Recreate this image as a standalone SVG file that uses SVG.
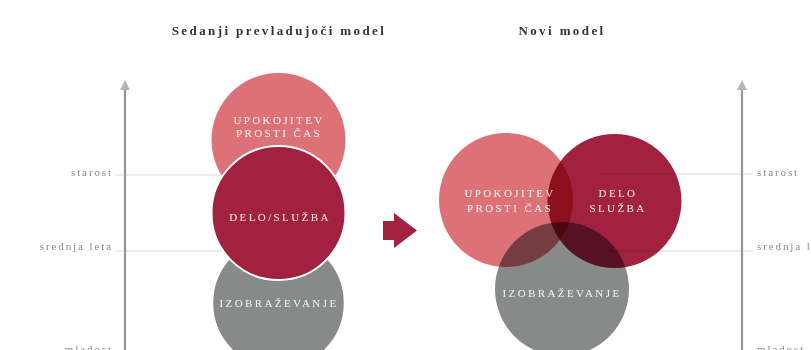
<svg xmlns="http://www.w3.org/2000/svg" width="811" height="350" viewBox="0 0 811 350">
<defs>
<style>
.title{font-family:"Liberation Serif",serif;font-size:13px;font-weight:bold;fill:#333;letter-spacing:2.4px;text-anchor:middle}
.lbl{font-family:"Liberation Serif",serif;font-size:11px;fill:#8a8a8a;letter-spacing:1.9px}
.ct{font-family:"Liberation Serif",serif;font-size:11px;fill:#fff;letter-spacing:2.4px;text-anchor:middle;opacity:0.92}
.grid{stroke:#ececec;stroke-width:2}
.axis{stroke:#959595;stroke-width:2.2}
.pink{fill:#dc7178}
.red{fill:#a2213f}
.gray{fill:#878a89}
.mul{mix-blend-mode:multiply}
</style>
</defs>
<rect width="811" height="350" fill="#fff"/>
<text class="title" x="279" y="35">Sedanji prevladujoči model</text>
<text class="title" x="562" y="35">Novi model</text>
<g id="axes">
<line class="grid" x1="115" y1="175" x2="300" y2="175"/>
<line class="grid" x1="115" y1="251" x2="300" y2="251"/>
<line class="grid" x1="600" y1="174" x2="753" y2="174"/>
<line class="grid" x1="600" y1="251" x2="753" y2="251"/>
<line class="axis" x1="125" y1="86" x2="125" y2="350"/>
<polygon points="125,80 120,90 130,90" fill="#b5b5b5"/>
<line class="axis" x1="742" y1="86" x2="742" y2="350"/>
<polygon points="742,80 737,90 747,90" fill="#b5b5b5"/>
<text class="lbl" x="113" y="176" text-anchor="end">starost</text>
<text class="lbl" x="113" y="250" text-anchor="end">srednja leta</text>
<text class="lbl" x="113" y="353" text-anchor="end">mladost</text>
<text class="lbl" x="757" y="176">starost</text>
<text class="lbl" x="757" y="250">srednja leta</text>
<text class="lbl" x="757" y="353">mladost</text>
</g>
<g id="left-upokojitev">
<circle class="pink" cx="278.5" cy="140" r="67"/>
<text class="ct" x="279" y="124">UPOKOJITEV</text>
<text class="ct" x="279" y="137">PROSTI ČAS</text>
</g>
<g id="left-izobrazevanje">
<circle class="gray" cx="278.5" cy="303" r="66" stroke="#fff" stroke-width="1.5"/>
<text class="ct" x="279" y="307">IZOBRAŽEVANJE</text>
</g>
<g id="left-delo">
<circle class="red" cx="278.5" cy="213" r="67" stroke="#fff" stroke-width="2"/>
<text class="ct" x="280" y="221">DELO/SLUŽBA</text>
</g>
<g id="connectors">
<polygon points="383,221 394,221 394,213 417,230.5 394,248 394,240 383,240" fill="#a2213f"/>
</g>
<g id="right-izobrazevanje">
<circle class="gray mul" cx="562" cy="289" r="67"/>
<text class="ct" x="562" y="297">IZOBRAŽEVANJE</text>
</g>
<g id="right-delo">
<circle class="red mul" cx="614.5" cy="201" r="67"/>
<text class="ct" x="618" y="197">DELO</text>
<text class="ct" x="618" y="212">SLUŽBA</text>
</g>
<g id="right-upokojitev">
<circle class="pink mul" cx="506" cy="200" r="67"/>
<text class="ct" x="510" y="197">UPOKOJITEV</text>
<text class="ct" x="510" y="212">PROSTI ČAS</text>
</g>
</svg>
